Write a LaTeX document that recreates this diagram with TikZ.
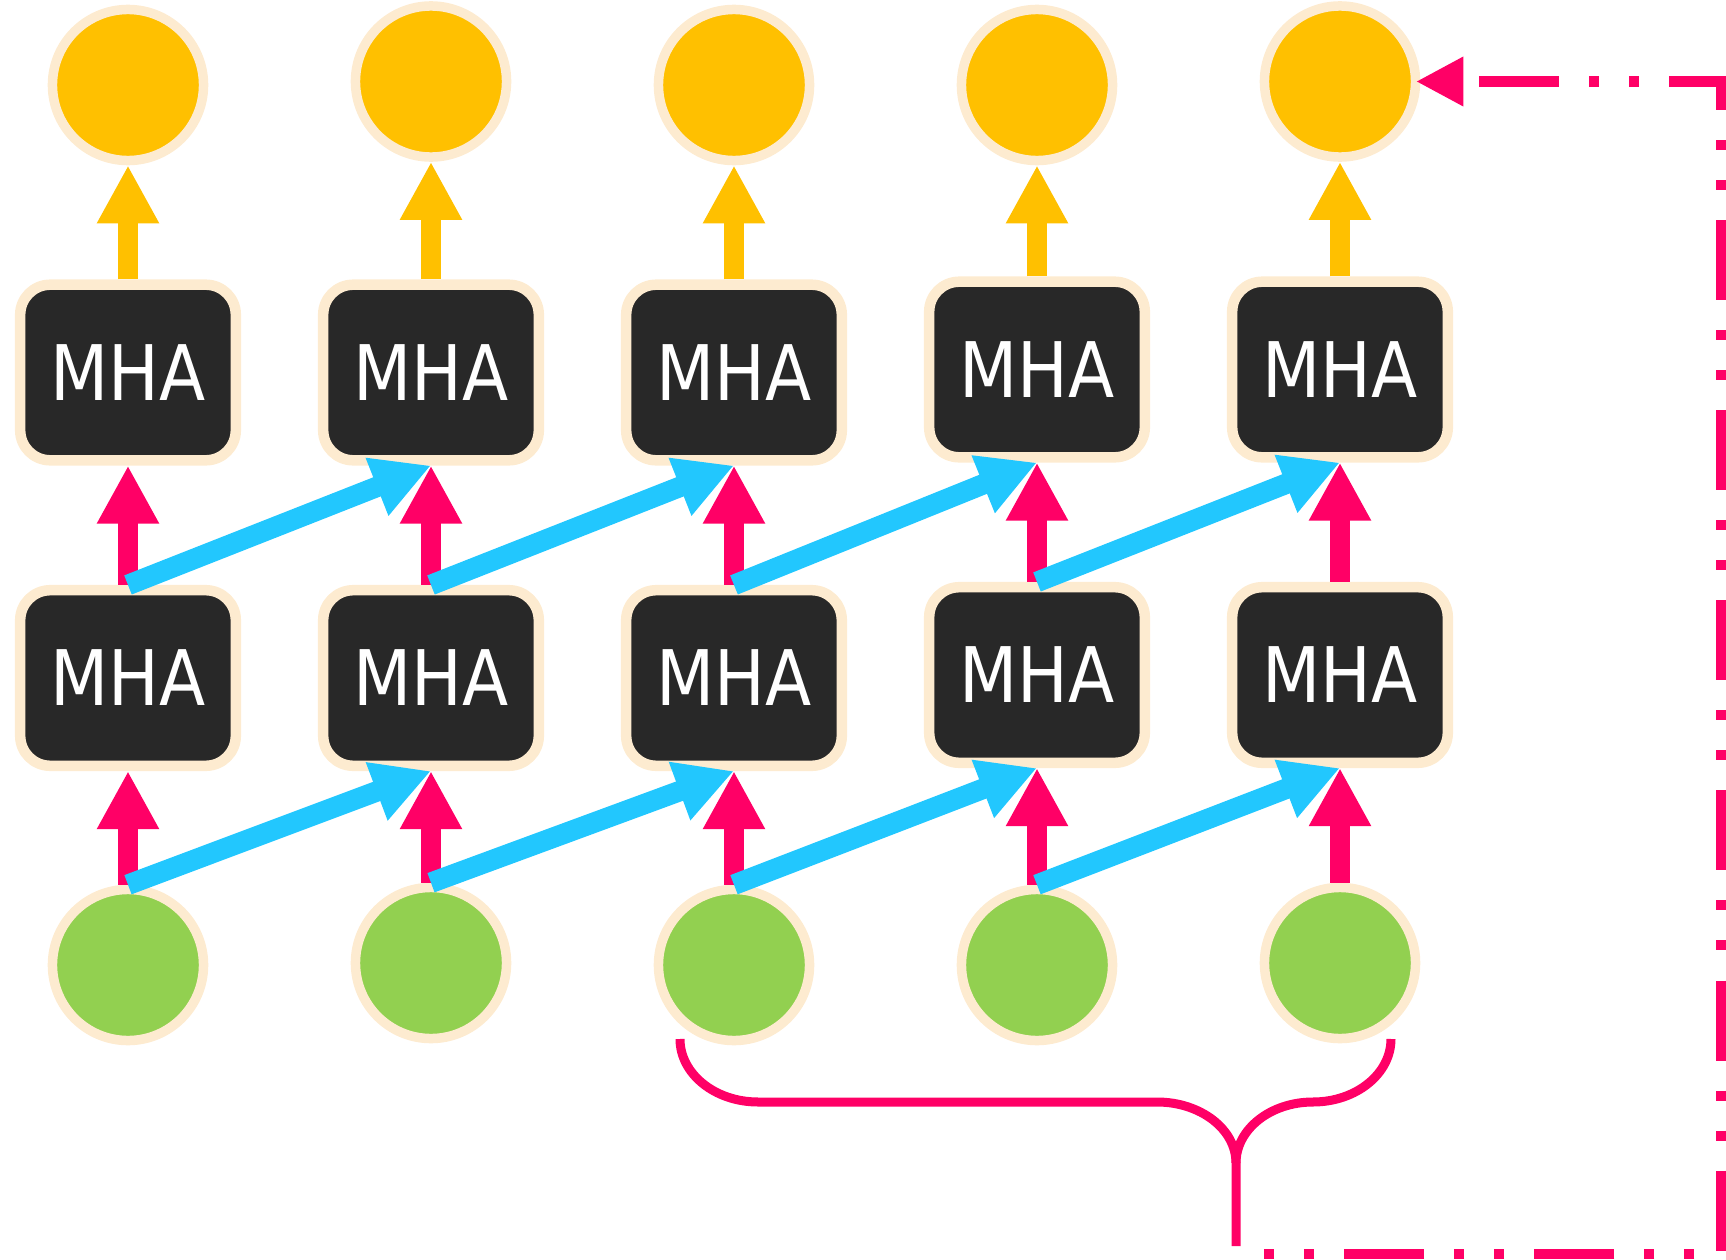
\documentclass[tikz,border=0pt]{standalone}
\usepackage{fontspec}
\newfontfamily\mhafont[FakeStretch=0.88]{DejaVu Sans}
\usetikzlibrary{arrows.meta}
\definecolor{cream}{HTML}{FDEBD0}
\definecolor{outyellow}{HTML}{FFC000}
\definecolor{ingreen}{HTML}{92D050}
\definecolor{hotpink}{HTML}{FF0066}
\definecolor{skyblue}{HTML}{22C7FE}
\definecolor{mhagray}{HTML}{282828}
\tikzstyle{token}=[circle,draw=cream,line width=0.095cm,minimum size=1.51cm,inner sep=0pt]
\tikzstyle{mha}=[rectangle,rounded corners=0.3cm,fill=mhagray,draw=cream,line width=0.105cm,minimum width=2.155cm,minimum height=1.755cm,inner sep=0pt,text=white,font=\mhafont\fontsize{21.8pt}{26pt}\selectfont]
\tikzstyle{flow}=[draw,line width=0.205cm,-{Triangle[length=0.58cm,width=0.58cm]}]
\tikzstyle{brace}=[draw,hotpink,line width=0.09cm]
\tikzstyle{loopback}=[draw,hotpink,line width=0.1cm,dash pattern=on 0.8cm off 0.3cm on 0.1cm off 0.3cm on 0.1cm off 0.3cm,dash phase=1.715cm,shorten <=-0.04cm,{Triangle[length=0.47cm,width=0.47cm]}-]

\begin{document}
\begin{tikzpicture}[x=0.01cm, y=0.01cm]
    \useasboundingbox (0,0) rectangle (1726,1259);
    % First the tokens and the two rows of attention blocks
    \foreach \pos/\name in {{(128,294)/g1}, {(431,296)/g2}, {(734,294)/g3}, {(1037,294)/g4}, {(1340,296)/g5}}
        \node[token, fill=ingreen] (\name) at \pos {};
    \foreach \pos/\name in {{(128,581)/a1}, {(431,581)/a2}, {(734,581)/a3}, {(1037,584)/a4}, {(1340,584)/a5}}
        \node[mha] (\name) at \pos {MHA};
    \foreach \pos/\name in {{(128,886.5)/t1}, {(431,886.5)/t2}, {(734,886.5)/t3}, {(1037,889.5)/t4}, {(1340,889.5)/t5}}
        \node[mha] (\name) at \pos {MHA};
    \foreach \pos/\name in {{(128,1174)/c1}, {(431,1177.5)/c2}, {(734,1174)/c3}, {(1037,1174)/c4}, {(1340,1177.5)/c5}}
        \node[token, fill=outyellow] (\name) at \pos {};

    % Connect them
    \foreach \i in {1,...,5} {
        \path[flow, hotpink] (g\i.north) -- (a\i.south);
        \path[flow, hotpink] (a\i.north) -- (t\i.south);
    }
    \foreach \source/\dest in {g1/a2, g2/a3, g3/a4, g4/a5, a1/t2, a2/t3, a3/t4, a4/t5}
        \path[flow, skyblue] (\source.north) -- (\dest.south);
    \foreach \i in {1,...,5}
        \path[flow, outyellow] (t\i.north) -- (c\i.south);

    % Brace under the last tokens and the way back
    \path[brace] (680,220) arc[start angle=180, end angle=270, x radius=78, y radius=63]
        -- (1157,157) arc[start angle=90, end angle=0, x radius=79, y radius=61] -- (1236,13);
    \path[brace] (1391,220) arc[start angle=0, end angle=-90, x radius=78, y radius=63]
        arc[start angle=90, end angle=180, x radius=77, y radius=61];
    \coordinate (turn) at (1721,5);
    \coordinate (src) at (1240,5);
    \path[loopback] (c5.east) -| (turn) -- (src);
\end{tikzpicture}
\end{document}
